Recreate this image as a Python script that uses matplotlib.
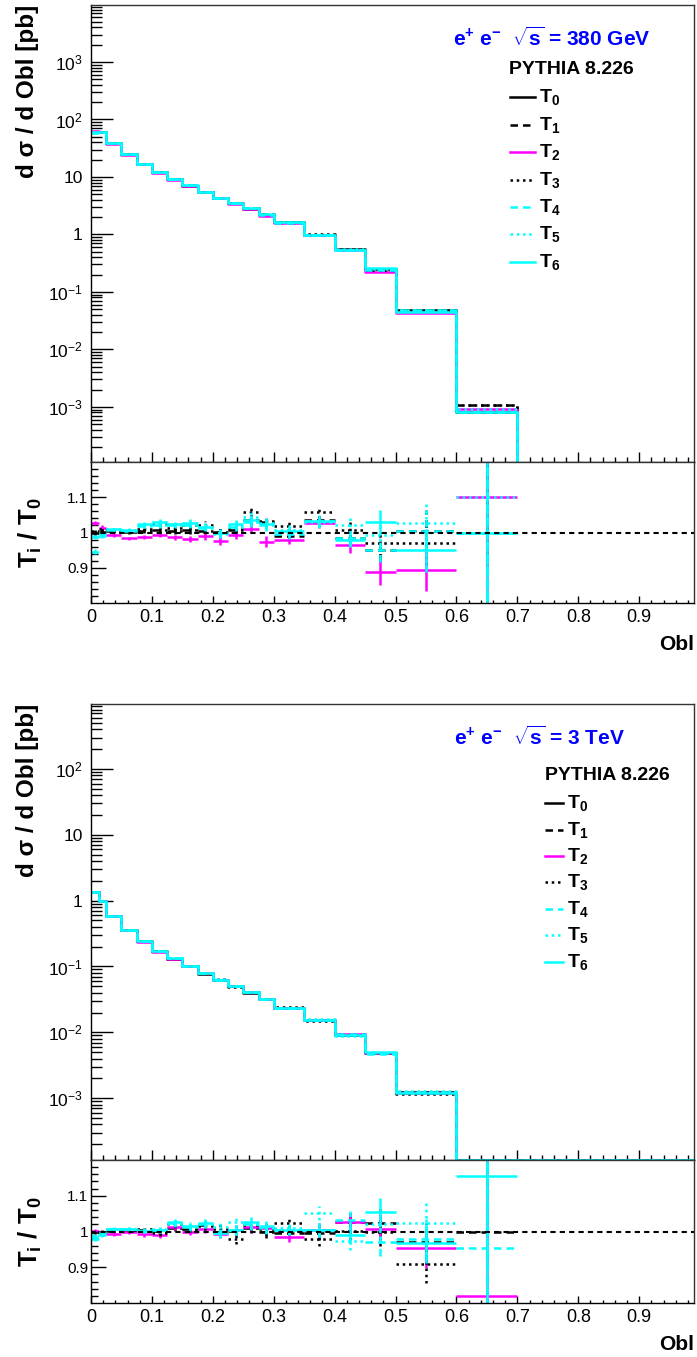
import numpy as np
import matplotlib
matplotlib.use("Agg")
import matplotlib.pyplot as plt
from matplotlib.lines import Line2D
from matplotlib.ticker import FixedLocator, MultipleLocator, LogLocator, FuncFormatter, NullFormatter

plt.rcParams['font.family'] = ['Liberation Sans', 'DejaVu Sans']
plt.rcParams.update({'mathtext.fontset': 'custom',
                     'mathtext.rm': 'Liberation Sans',
                     'mathtext.bf': 'Liberation Sans:bold',
                     'mathtext.it': 'Liberation Sans:italic',
                     'mathtext.default': 'regular'})

# bin edges of the Obl histograms (last bin is the empty tail)
edges = [0, 0.0125, 0.025, 0.05, 0.075, 0.1, 0.125, 0.15, 0.175, 0.2, 0.225,
         0.25, 0.275, 0.3, 0.35, 0.4, 0.45, 0.5, 0.6, 0.7, 1.0]

labels = ['T$_{0}$', 'T$_{1}$', 'T$_{2}$', 'T$_{3}$', 'T$_{4}$', 'T$_{5}$', 'T$_{6}$']
colors = ['black', 'black', '#ff00ff', 'black', '#00ffff', '#00ffff', '#00ffff']
styles = ['-', (0, (3, 2)), '-', (0, (1, 1.5)), (0, (3, 2)), (0, (1, 1.5)), '-']

# ---- 380 GeV ----
t0_380 = [61, 60, 38.3, 24.6, 16.7, 12.0, 9.05, 7.1, 5.44, 4.33, 3.46, 2.75, 2.17,
          1.62, 0.96, 0.55, 0.25, 0.048, 8.2e-4, 0]
r1_380 = [1.000, 1.002, 1.003, 1.002, 1.004, 1.008, 1.004, 1.006, 1.005, 1.002,
          1.007, 1.035, 1.030, 0.990, 1.036, 0.983, 0.950, 1.004, 1.30]
r2_380 = [1.028, 1.014, 0.993, 0.983, 0.988, 0.993, 0.986, 0.981, 0.990, 0.976,
          0.993, 1.011, 0.974, 0.980, 1.028, 0.964, 0.887, 0.894, 1.100]
r3_380 = [1.005, 1.010, 1.006, 1.004, 1.010, 1.025, 1.012, 1.020, 1.022, 0.998,
          1.010, 1.058, 1.032, 1.018, 1.058, 1.008, 0.969, 0.969, 1.32]
r4_380 = [0.946, 0.995, 1.008, 1.005, 1.018, 1.020, 1.020, 1.022, 1.014, 0.998,
          1.015, 1.030, 1.020, 0.995, 1.032, 0.983, 0.950, 1.004, 1.000]
r5_380 = [0.990, 1.000, 1.010, 1.006, 1.020, 1.030, 1.024, 1.026, 1.016, 0.996,
          1.021, 1.045, 1.028, 1.008, 1.030, 1.022, 0.993, 1.028, 1.100]
r6_380 = [0.988, 0.990, 1.009, 1.007, 1.023, 1.030, 1.023, 1.028, 1.016, 0.999,
          1.023, 1.036, 1.025, 1.004, 1.033, 0.980, 1.030, 0.949, 1.000]
err_380 = [0.006, 0.006, 0.005, 0.005, 0.006, 0.007, 0.008, 0.009, 0.010, 0.011,
           0.012, 0.013, 0.015, 0.013, 0.016, 0.022, 0.035, 0.060, 0.40]

# ---- 3 TeV ----
t0_3tev = [1.37, 1.0, 0.59, 0.36, 0.24, 0.17, 0.13, 0.10, 0.078, 0.063, 0.050, 0.040,
           0.032, 0.0235, 0.0152, 0.0091, 0.0048, 0.00125, 6e-5, 0]
r1_3tev = [1.000, 0.998, 1.002, 1.003, 1.004, 1.002, 1.010, 1.008, 1.018, 1.000,
           1.002, 1.010, 0.998, 0.995, 0.995, 1.026, 1.024, 0.970, 1.000]
r2_3tev = [1.002, 0.995, 0.993, 1.000, 0.993, 0.990, 1.012, 1.000, 1.007, 0.993,
           1.005, 1.012, 1.009, 0.986, 1.003, 1.026, 1.008, 0.953, 0.820]
r3_3tev = [0.998, 1.000, 1.004, 1.004, 1.008, 0.995, 1.020, 1.008, 1.015, 1.008,
           0.978, 1.018, 1.006, 1.024, 0.979, 1.002, 1.000, 0.910, 1.30]
r4_3tev = [0.985, 0.995, 1.006, 1.006, 1.002, 1.003, 1.024, 1.012, 1.020, 0.996,
           1.004, 1.022, 1.012, 1.004, 1.004, 1.033, 0.972, 0.979, 0.955]
r5_3tev = [0.990, 0.998, 1.008, 1.008, 1.004, 1.006, 1.022, 1.016, 1.022, 1.012,
           1.026, 1.020, 1.010, 1.010, 1.052, 0.974, 1.020, 1.024, 1.30]
r6_3tev = [0.979, 0.990, 1.008, 1.007, 1.002, 1.005, 1.026, 1.014, 1.024, 0.995,
           1.003, 1.026, 1.014, 1.005, 1.005, 0.989, 1.054, 0.967, 1.156]
err_3tev = [0.005, 0.005, 0.005, 0.006, 0.007, 0.008, 0.009, 0.010, 0.011, 0.012,
            0.013, 0.015, 0.016, 0.014, 0.020, 0.025, 0.040, 0.055, 0.40]

W, H = 697, 1357


def fx(px):
    return px / W


def fy(py):
    return 1 - py / H


def draw_hist(ax, vals, ylo, floor, **kw):
    v = np.asarray(vals, float)
    if floor:
        v = np.maximum(v, ylo)
    else:
        v = np.where(v > 0, v, ylo * 1e-3)
    x = np.repeat(edges, 2)[1:-1]
    y = np.repeat(v, 2)
    ax.plot(x, y, **kw)


def logfmt(v, pos):
    e = int(round(np.log10(v)))
    if e == 0:
        return '1'
    if e == 1:
        return '10'
    return '$10^{%d}$' % e


def make_panel(fig, top_px, bot_px, rbot_px, t0, ratios, err, ylim, floor,
               title, tpos, ppos, leg_rows, leg_x):
    ax = fig.add_axes([fx(91), fy(bot_px), fx(694) - fx(91), fy(top_px) - fy(bot_px)])
    rax = fig.add_axes([fx(91), fy(rbot_px), fx(694) - fx(91), fy(bot_px) - fy(rbot_px)])

    t0 = np.asarray(t0, float)
    series = [t0] + [np.append(t0[:-1] * np.asarray(r), 0.0) for r in ratios]
    for s, c, ls in zip(series, colors, styles):
        draw_hist(ax, s, ylim[0], floor, color=c, ls=ls, lw=1.8)

    ax.set_yscale('log')
    ax.set_xlim(0, 0.99)
    ax.set_ylim(*ylim)
    ax.yaxis.set_major_locator(LogLocator(base=10, numticks=20))
    ax.yaxis.set_minor_locator(LogLocator(base=10, subs=np.arange(2, 10), numticks=20))
    ax.yaxis.set_major_formatter(FuncFormatter(logfmt))
    ax.yaxis.set_minor_formatter(NullFormatter())
    ax.xaxis.set_major_locator(MultipleLocator(0.1))
    ax.xaxis.set_minor_locator(MultipleLocator(0.02))
    ax.tick_params(axis='y', which='major', direction='in', length=16, width=1,
                   labelsize=12.5, pad=6)
    ax.tick_params(axis='y', which='minor', direction='in', length=8, width=1)
    ax.tick_params(axis='x', which='major', direction='in', length=7, width=1,
                   labelbottom=False)
    ax.tick_params(axis='x', which='minor', direction='in', length=3.6, width=1)

    # ratio panel
    e = np.asarray(edges[:-1])
    centers = (e[:-1] + e[1:]) / 2
    half = (e[1:] - e[:-1]) / 2
    for r, c, ls in zip(ratios, colors[1:], styles[1:]):
        eb = rax.errorbar(centers, r, xerr=half, yerr=err, fmt='none', ecolor=c,
                          elinewidth=1.8, capsize=0)
        for lc in eb.lines[2]:
            lc.set_linestyle(ls)
    rax.axhline(1.0, color='black', ls=(0, (2.5, 2)), lw=1.5)
    rax.set_xlim(0, 0.99)
    rax.set_ylim(0.8, 1.2)
    major_y = [0.9, 1.0, 1.1]
    minor_y = [v for v in np.round(np.arange(0.82, 1.19, 0.02), 2) if v not in major_y]
    rax.yaxis.set_major_locator(FixedLocator(major_y))
    rax.yaxis.set_minor_locator(FixedLocator(minor_y))
    rax.yaxis.set_major_formatter(FuncFormatter(lambda v, p: '%g' % round(v, 2)))
    rax.xaxis.set_major_locator(FixedLocator(np.round(np.arange(0, 0.95, 0.1), 1)))
    rax.xaxis.set_minor_locator(MultipleLocator(0.02))
    rax.xaxis.set_major_formatter(FuncFormatter(lambda v, p: '%g' % round(v, 2)))
    rax.tick_params(axis='y', which='major', direction='in', length=11, width=1,
                    labelsize=11, pad=2)
    rax.tick_params(axis='y', which='minor', direction='in', length=5, width=1)
    rax.tick_params(axis='x', which='major', direction='in', length=5, width=1,
                    labelsize=13, pad=4)
    rax.tick_params(axis='x', which='minor', direction='in', length=2.4, width=1)

    for a in (ax, rax):
        for sp in a.spines.values():
            sp.set_linewidth(1.0)
            sp.set_color('#333333')
        a.spines['left'].set_color('black')
        a.spines['bottom'].set_color('black')

    # axis titles
    fig.text(fx(28), fy(top_px), 'd σ / d Obl [pb]', rotation=90, ha='center',
             va='top', fontsize=17.5, fontweight='bold')
    fig.text(fx(30), fy((bot_px + rbot_px) / 2), r'$\mathbf{T_{i}\ /\ T_{0}}$',
             rotation=90, ha='center', va='center', fontsize=18.5)
    fig.text(fx(694), fy(rbot_px + 42), 'Obl', ha='right', va='center',
             fontsize=15, fontweight='bold')

    # header and legend
    fig.text(fx(tpos[0]), fy(tpos[1]), title, ha='left', va='center',
             fontsize=15, fontweight='bold', color='#0000ff')
    fig.text(fx(ppos[0]), fy(ppos[1]), 'PYTHIA 8.226', ha='left', va='center',
             fontsize=14, fontweight='bold')
    for yrow, lab, c, ls in zip(leg_rows, labels, colors, styles):
        fig.add_artist(Line2D([fx(leg_x[0]), fx(leg_x[1])], [fy(yrow), fy(yrow)],
                              color=c, ls=ls, lw=1.8))
        fig.text(fx(leg_x[1] + 4), fy(yrow), r'$\mathbf{%s}$' % lab.replace('$', ''),
                 ha='left', va='center', fontsize=14)
    return ax, rax


fig = plt.figure(figsize=(W / 100, H / 100), dpi=100)

make_panel(fig, 5, 462, 603, t0_380,
           [r1_380, r2_380, r3_380, r4_380, r5_380, r6_380], err_380,
           (1.1e-4, 9.8e3), False,
           r'e$^{\mathbf{+}}$ e$^{\mathbf{-}}$  $\mathbf{\sqrt{s}}$ = 380 GeV', (453, 38), (509, 69),
           [97, 125, 152, 180, 207, 234, 262], (510, 535))

make_panel(fig, 704, 1160, 1303, t0_3tev,
           [r1_3tev, r2_3tev, r3_3tev, r4_3tev, r5_3tev, r6_3tev], err_3tev,
           (1.15e-4, 9.7e2), True,
           r'e$^{\mathbf{+}}$ e$^{\mathbf{-}}$  $\mathbf{\sqrt{s}}$ = 3 TeV', (454, 737), (545, 776),
           [803, 830, 856, 882, 909, 935, 962], (545, 563))

fig.savefig('out.png', dpi=100)
